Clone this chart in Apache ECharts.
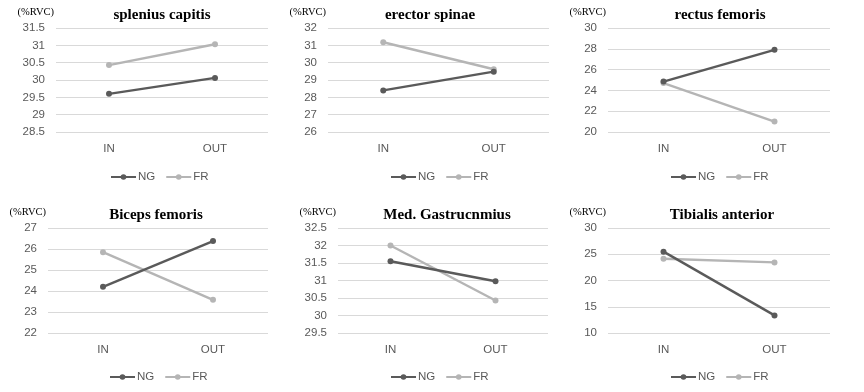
<!DOCTYPE html>
<html><head><meta charset="utf-8">
<script src="https://cdn.jsdelivr.net/npm/echarts@6/dist/echarts.min.js"></script>
<style>html,body{margin:0;padding:0;background:#fff}#c{width:864px;height:392px}</style>
</head><body><div id="c"></div>
<script>
const categories = ['IN', 'OUT'];
const seriesNames = ['NG', 'FR'];
const titles = ['splenius capitis', 'erector spinae', 'rectus femoris', 'Biceps femoris', 'Med. Gastrucnmius', 'Tibialis anterior'];
const ngValues = [[29.6, 30.06], [28.4, 29.48], [24.85, 27.9], [24.2, 26.38], [31.55, 30.98], [25.5, 13.35]];
const frValues = [[30.43, 31.03], [31.18, 29.62], [24.7, 21.0], [25.85, 23.58], [32.0, 30.43], [24.15, 23.45]];
const yMin = [28.5, 26, 20, 22, 29.5, 10];
const yMax = [31.5, 32, 30, 27, 32.5, 30];
const yStep = [0.5, 1, 2, 1, 0.5, 5];

const grids = [
  {left: 56, top: 28, width: 212, height: 104},
  {left: 328, top: 28, width: 221, height: 104},
  {left: 608, top: 28, width: 222, height: 104},
  {left: 48, top: 228, width: 220, height: 105},
  {left: 338, top: 228, width: 210, height: 105},
  {left: 608, top: 228, width: 222, height: 105}
];
const titleX = [157, 425, 715, 151, 442, 717];
const titleY = [13, 13, 13, 213, 213, 213];
const legendLeft = [105, 385, 665, 104, 385, 665];
const legendTop = [166, 166, 166, 366, 366, 366];
const colors = ['#5a5a5a', '#b5b5b5'];
const textColor = '#595959';

const option = {
  animation: false,
  grid: grids,
  title: titles.map((t, i) => ({
    text: t, left: titleX[i], top: titleY[i] - 10, textAlign: 'center',
    textStyle: {fontFamily: 'Liberation Serif', fontWeight: 'bold', fontSize: 15, color: '#000'}
  })),
  legend: titles.map((t, i) => ({
    data: seriesNames.map(n => n + i),
    formatter: name => name.slice(0, 2),
    left: legendLeft[i], top: legendTop[i],
    itemWidth: 25, itemHeight: 7, itemGap: 10,
    textStyle: {color: textColor, fontSize: 11.5, fontFamily: 'Liberation Sans', padding: [0, 0, 0, -3]}
  })),
  xAxis: titles.map((t, i) => ({
    type: 'category', gridIndex: i, data: categories, boundaryGap: true,
    axisLine: {show: false}, axisTick: {show: false},
    axisLabel: {color: textColor, fontSize: 11.5, fontFamily: 'Liberation Sans', margin: 11}
  })),
  yAxis: titles.map((t, i) => ({
    type: 'value', gridIndex: i, min: yMin[i], max: yMax[i], interval: yStep[i],
    name: '(%RVC)', nameLocation: 'end', nameGap: 10,
    nameTextStyle: {fontFamily: 'Liberation Serif', fontSize: 10.5, color: '#000', align: 'right', padding: [0, 2, 0, 0]},
    axisLine: {show: false}, axisTick: {show: false},
    splitLine: {lineStyle: {color: '#d9d9d9', width: 1}},
    axisLabel: {color: textColor, fontSize: 11.5, fontFamily: 'Liberation Sans', margin: 11}
  })),
  series: []
};
titles.forEach((t, i) => {
  [ngValues, frValues].forEach((vals, k) => {
    option.series.push({
      name: seriesNames[k] + i, type: 'line', xAxisIndex: i, yAxisIndex: i,
      data: vals[i], symbol: 'circle', symbolSize: 6,
      itemStyle: {color: colors[k]}, lineStyle: {color: colors[k], width: 2.4},
      z: k === 0 ? 3 : 2
    });
  });
});
const chart = echarts.init(document.getElementById('c'), null, {renderer: 'canvas'});
chart.setOption(option);
</script></body></html>
